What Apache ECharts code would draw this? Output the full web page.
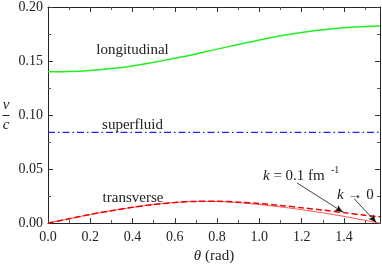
<!DOCTYPE html>
<html>
<head>
<meta charset="utf-8">
<script src="https://cdn.jsdelivr.net/npm/echarts@6/dist/echarts.min.js"></script>
<style>
html,body{margin:0;padding:0;background:#fff;}
#chart{width:382px;height:269px;}
#pre{position:absolute;left:-1000px;top:0;font-family:'Liberation Serif';font-size:15px;}
</style>
</head>
<body>
<span id="pre">preload <i>italic</i> θ →</span>
<div id="chart"></div>
<script>
// ---- data ----
var theta = [0, 0.1, 0.2, 0.3, 0.4, 0.5, 0.6, 0.7, 0.8, 0.9, 1.0, 1.1, 1.2, 1.3, 1.4, 1.5, 1.5708];
var longitudinal = [0.1400, 0.1403, 0.1413, 0.1430, 0.1455, 0.1488, 0.1525, 0.1565, 0.1610, 0.1652, 0.1695, 0.1733, 0.1765, 0.1790, 0.1808, 0.1820, 0.1823];
var superfluid = [0.084, 0.084, 0.084, 0.084, 0.084, 0.084, 0.084, 0.084, 0.084, 0.084, 0.084, 0.084, 0.084, 0.084, 0.084, 0.084, 0.084];
var transverseK0 = [0, 0.0040, 0.0080, 0.0115, 0.0146, 0.0172, 0.0191, 0.0201, 0.0201, 0.0190, 0.0172, 0.0150, 0.0124, 0.0095, 0.0062, 0.0025, 0];
var transverseK01 = [0, 0.0040, 0.0080, 0.0115, 0.0146, 0.0172, 0.0191, 0.0201, 0.0202, 0.0194, 0.0181, 0.0163, 0.0142, 0.0120, 0.0097, 0.0072, 0.0058];
var xTicks = [0.0, 0.2, 0.4, 0.6, 0.8, 1.0, 1.2, 1.4];
var yTicks = [0.00, 0.05, 0.10, 0.15, 0.20];
// arrows: [from theta, from v, to theta, to v]
var arrowK01 = [1.178, 0.0372, 1.395, 0.0102];
var arrowK0 = [1.449, 0.0225, 1.553, 0.0006];

function pairs(xs, ys){ return xs.map(function(x,i){ return [x, ys[i]]; }); }

var FONT = "Liberation Serif";

function xAx(pos, showLabel){
  return {
    type:'value', position:pos, min:0, max:Math.PI/2, interval:0.2,
    axisLine:{show:true, onZero:false, lineStyle:{color:'#222', width:1}},
    axisTick:{show:true, inside:true, length:5, lineStyle:{color:'#333'}},
    minorTick:{show:true, splitNumber:2, length:3, lineStyle:{color:'#555'}},
    splitLine:{show:false},
    axisLabel:{show:showLabel, showMaxLabel:false, margin:7, color:'#222', fontFamily:FONT, fontSize:14,
      formatter:function(v){ return v.toFixed(1); }},
    name: showLabel ? '{i|θ} (rad)' : '',
    nameLocation:'middle', nameGap:25,
    nameTextStyle:{color:'#222', fontFamily:FONT, fontSize:15,
      rich:{i:{fontStyle:'italic', fontFamily:FONT, fontSize:15, color:'#222'}}}
  };
}
function yAx(pos, showLabel){
  return {
    type:'value', position:pos, min:0, max:0.2, interval:0.05,
    axisLine:{show:true, onZero:false, lineStyle:{color:'#222', width:1}},
    axisTick:{show:true, inside:true, length:5, lineStyle:{color:'#333'}},
    minorTick:{show:true, splitNumber:2, length:3, lineStyle:{color:'#555'}},
    splitLine:{show:false},
    axisLabel:{show:showLabel, margin:5, color:'#222', fontFamily:FONT, fontSize:14,
      formatter:function(v){ return v.toFixed(2); }}
  };
}

function build(){
  return {
  animation:false,
  backgroundColor:'#fff',
  textStyle:{fontFamily:FONT},
  grid:{left:48, right:2, top:6, bottom:41, containLabel:false},
  xAxis:[xAx('bottom', true), xAx('top', false)],
  yAxis:[yAx('left', true), yAx('right', false)],
  series:[
    {type:'line', name:'longitudinal', data:pairs(theta, longitudinal), showSymbol:false, smooth:0.3,
      lineStyle:{color:'#22ee22', width:1.5}},
    {type:'line', name:'superfluid', data:pairs(theta, superfluid), showSymbol:false,
      lineStyle:{color:'#2222ee', width:1.2, type:[7,3,1.5,3]}},
    {type:'line', name:'transverse k0', data:pairs(theta, transverseK0), showSymbol:false, smooth:0.3,
      lineStyle:{color:'#ff5555', width:1}},
    {type:'line', name:'transverse k01', data:pairs(theta, transverseK01), showSymbol:false, smooth:0.3,
      lineStyle:{color:'#ee0000', width:1.5, type:[6,3]},
      markLine:{silent:true, symbol:['none','arrow'], symbolSize:[5,8], animation:false,
        lineStyle:{color:'#111', width:0.8, type:'solid'}, label:{show:false},
        data:[
          [{coord:[arrowK01[0], arrowK01[1]]},{coord:[arrowK01[2], arrowK01[3]]}],
          [{coord:[arrowK0[0], arrowK0[1]]},{coord:[arrowK0[2], arrowK0[3]]}]
        ]}}
  ],
  graphic:[
    {type:'text', x:6, y:105, style:{text:'v', fontFamily:FONT, fontStyle:'italic', fontSize:15, fill:'#222', align:'center', verticalAlign:'middle'}},
    {type:'line', shape:{x1:2.5, y1:115.5, x2:9.5, y2:115.5}, style:{stroke:'#222', lineWidth:1}},
    {type:'text', x:6, y:125, style:{text:'c', fontFamily:FONT, fontStyle:'italic', fontSize:15, fill:'#222', align:'center', verticalAlign:'middle'}},
    {type:'text', x:132.5, y:50, style:{text:'longitudinal', fontFamily:FONT, fontSize:15, fill:'#222', align:'center', verticalAlign:'middle'}},
    {type:'text', x:132.5, y:125, style:{text:'superfluid', fontFamily:FONT, fontSize:15, fill:'#222', align:'center', verticalAlign:'middle'}},
    {type:'text', x:133, y:198, style:{text:'transverse', fontFamily:FONT, fontSize:15, fill:'#222', align:'center', verticalAlign:'middle'}},
    {type:'text', x:263, y:176, style:{text:'{i|k} = 0.1 fm', fontFamily:FONT, fontSize:15, fill:'#222', align:'left', verticalAlign:'middle',
      rich:{i:{fontStyle:'italic', fontFamily:FONT, fontSize:15, fill:'#222'}}}},
    {type:'text', x:331, y:170, style:{text:'-1', fontFamily:FONT, fontSize:10, fill:'#222', align:'left', verticalAlign:'middle'}},
    {type:'text', x:337, y:195, style:{text:'{i|k} → 0', fontFamily:FONT, fontSize:15, fill:'#222', align:'left', verticalAlign:'middle',
      rich:{i:{fontStyle:'italic', fontFamily:FONT, fontSize:15, fill:'#222'}}}}
  ]
  };
}
var chart = echarts.init(document.getElementById('chart'), null, {renderer:'canvas'});
chart.setOption(build());
</script>
</body>
</html>
